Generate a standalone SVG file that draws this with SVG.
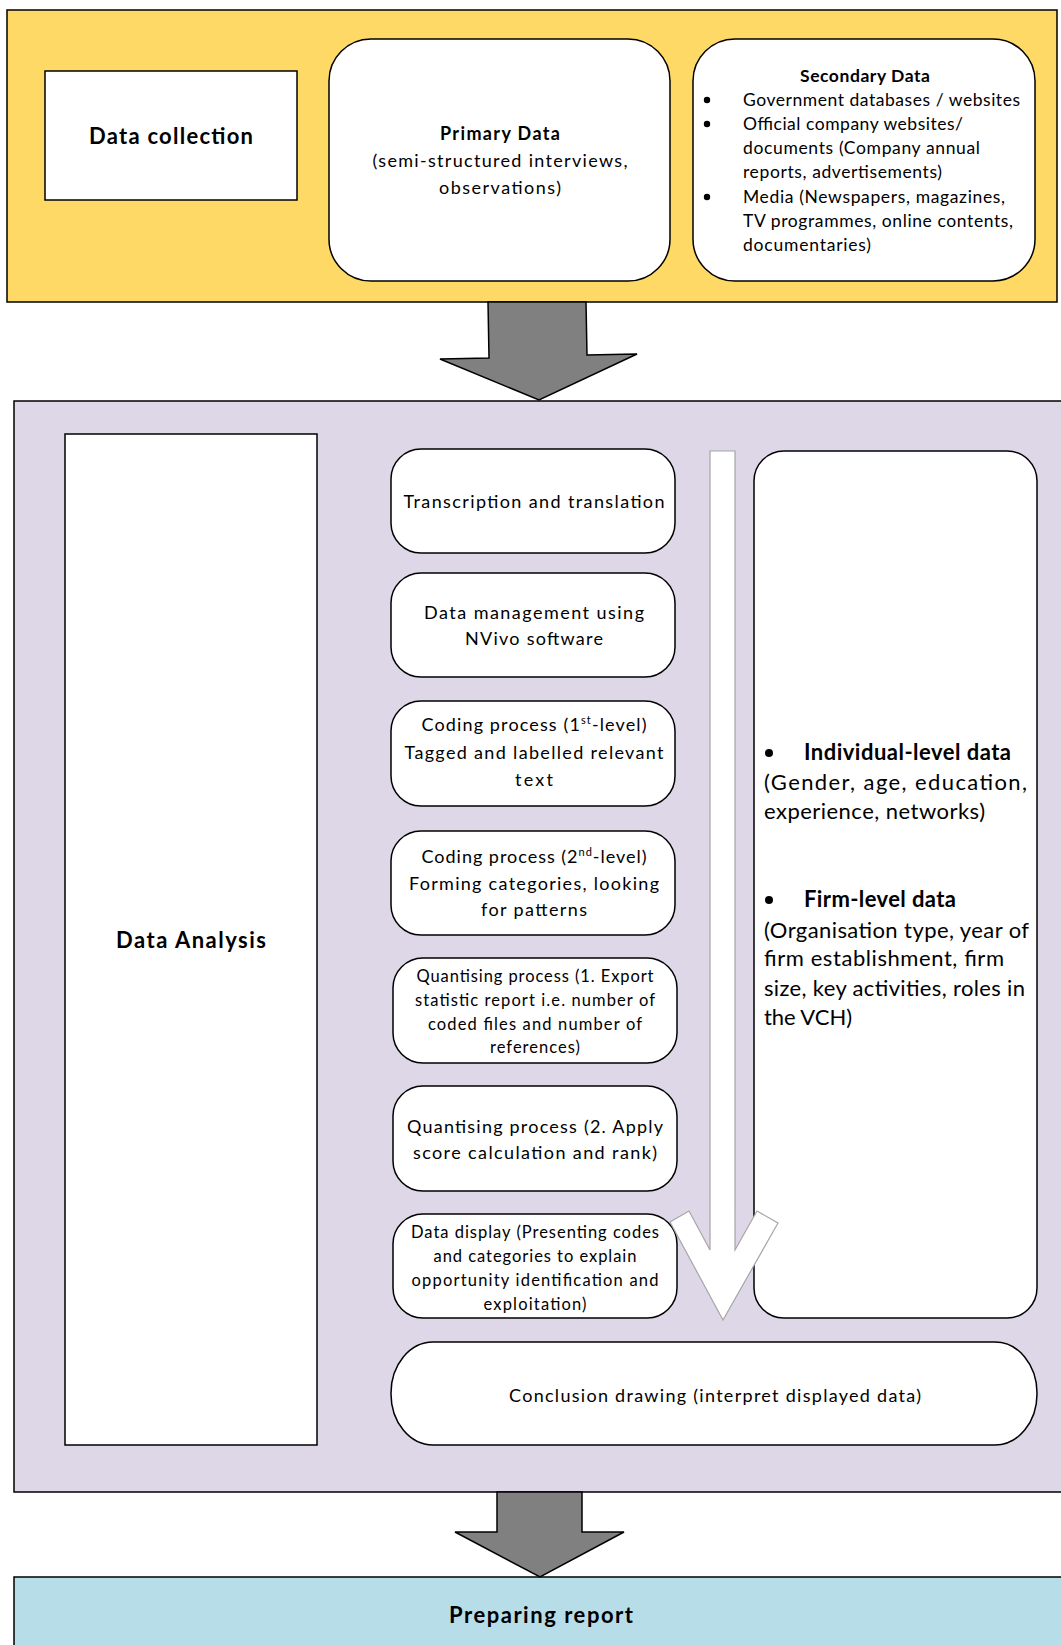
<svg xmlns="http://www.w3.org/2000/svg" width="1061" height="1645" viewBox="0 0 1061 1645">
  <style>
    text { font-family: Lato, "Liberation Sans", sans-serif; fill: #000; }
    .frame { stroke: #000; stroke-width: 1.5; }
    .box { fill: #fff; stroke: #000; stroke-width: 1.5; }
    .b { font-weight: bold; }
    .c { text-anchor: middle; }
    .t17 { font-size: 17.5px; }
    .t18 { font-size: 18px; }
    .t165 { font-size: 16.5px; }
    .t22 { font-size: 22px; }
    .block { fill: #808080; stroke: #000; stroke-width: 1.5; stroke-linejoin: miter; }
    .flow { fill: #fff; stroke: #a6a6a6; stroke-width: 1.2; }
  </style>

  <rect width="1061" height="1645" fill="#fff"/>

  <!-- stage panels -->
  <g id="collection-panel">
    <rect class="frame" x="7" y="10" width="1050" height="292" fill="#ffd966"/>
  </g>
  <g id="analysis-panel">
    <rect class="frame" x="14" y="401" width="1060" height="1091" fill="#ddd7e7"/>
  </g>
  <g id="report-panel">
    <rect class="frame" x="14" y="1577" width="1060" height="80" fill="#b7dde8"/>
    <text class="b c t22" x="541" y="1623" textLength="184">Preparing report</text>
  </g>

  <!-- data collection -->
  <g id="data-collection">
    <rect class="box" x="45" y="71" width="252" height="129"/>
    <text class="b c t22" x="171" y="144" textLength="164">Data collection</text>
  </g>
  <g id="primary-data">
    <rect class="box" x="329" y="39" width="341" height="242" rx="42"/>
    <text class="b c t18" x="500" y="140" textLength="120">Primary Data</text>
    <text class="c t18" x="500" y="167" textLength="255">(semi-structured interviews,</text>
    <text class="c t18" x="500" y="194" textLength="122">observations)</text>
  </g>
  <g id="secondary-data">
    <rect class="box" x="693" y="39" width="342" height="242" rx="42"/>
    <text class="b c t17" x="865" y="82" textLength="130">Secondary Data</text>
    <circle cx="707" cy="100" r="3.2"/>
    <text class="t17" x="743" y="106" textLength="277">Government databases / websites</text>
    <circle cx="707" cy="124" r="3.2"/>
    <text class="t17" x="743" y="130" textLength="220">Official company websites/</text>
    <text class="t17" x="743" y="154" textLength="237">documents (Company annual</text>
    <text class="t17" x="743" y="178" textLength="199">reports, advertisements)</text>
    <circle cx="707" cy="197" r="3.2"/>
    <text class="t17" x="743" y="203" textLength="262">Media (Newspapers, magazines,</text>
    <text class="t17" x="743" y="227" textLength="270">TV programmes, online contents,</text>
    <text class="t17" x="743" y="251" textLength="128">documentaries)</text>
  </g>

  <!-- data analysis -->
  <g id="data-analysis">
    <rect class="box" x="65" y="434" width="252" height="1011"/>
    <text class="b c t22" x="191" y="948" textLength="150">Data Analysis</text>
  </g>
  <g id="transcription">
    <rect class="box" x="391" y="449" width="284" height="104" rx="30"/>
    <text class="c t18" x="534" y="508" textLength="261">Transcription and translation</text>
  </g>
  <g id="data-management">
    <rect class="box" x="391" y="573" width="284" height="104" rx="30"/>
    <text class="c t18" x="534" y="619" textLength="220">Data management using</text>
    <text class="c t18" x="534" y="645" textLength="138">NVivo software</text>
  </g>
  <g id="coding-first">
    <rect class="box" x="391" y="701" width="284" height="105" rx="30"/>
    <text class="c t18" x="534" y="731" textLength="225">Coding process (1<tspan font-size="11" dy="-7">st</tspan><tspan dy="7">-level)</tspan></text>
    <text class="c t18" x="534" y="759" textLength="259">Tagged and labelled relevant</text>
    <text class="c t18" x="534" y="786" textLength="38">text</text>
  </g>
  <g id="coding-second">
    <rect class="box" x="391" y="831" width="284" height="104" rx="30"/>
    <text class="c t18" x="534" y="863" textLength="225">Coding process (2<tspan font-size="11" dy="-7">nd</tspan><tspan dy="7">-level)</tspan></text>
    <text class="c t18" x="534" y="890" textLength="250">Forming categories, looking</text>
    <text class="c t18" x="534" y="916" textLength="106">for patterns</text>
  </g>
  <g id="quantising-export">
    <rect class="box" x="393" y="958" width="284" height="105" rx="30"/>
    <text class="c t165" x="535" y="982" textLength="237">Quantising process (1. Export</text>
    <text class="c t165" x="535" y="1006" textLength="240">statistic report i.e. number of</text>
    <text class="c t165" x="535" y="1030" textLength="214">coded files and number of</text>
    <text class="c t165" x="535" y="1053" textLength="90">references)</text>
  </g>
  <g id="quantising-score">
    <rect class="box" x="393" y="1086" width="284" height="105" rx="30"/>
    <text class="c t18" x="535" y="1133" textLength="256">Quantising process (2. Apply</text>
    <text class="c t18" x="535" y="1159" textLength="244">score calculation and rank)</text>
  </g>
  <g id="data-display">
    <rect class="box" x="393" y="1214" width="284" height="104" rx="30"/>
    <text class="c t165" x="535" y="1238" textLength="248">Data display (Presenting codes</text>
    <text class="c t165" x="535" y="1262" textLength="203">and categories to explain</text>
    <text class="c t165" x="535" y="1286" textLength="247">opportunity identification and</text>
    <text class="c t165" x="535" y="1310" textLength="103">exploitation)</text>
  </g>
  <g id="conclusion">
    <rect class="box" x="391" y="1342" width="646" height="103" rx="42" ry="51"/>
    <text class="c t18" x="715" y="1402" textLength="412">Conclusion drawing (interpret displayed data)</text>
  </g>
  <g id="data-levels">
    <rect class="box" x="754" y="451" width="283" height="867" rx="30"/>
    <circle cx="769" cy="753" r="4"/>
    <text class="b t22" x="804" y="760" textLength="207">Individual-level data</text>
    <text class="t22" x="764" y="790" textLength="263">(Gender, age, education,</text>
    <text class="t22" x="764" y="819" textLength="221">experience, networks)</text>
    <circle cx="769" cy="900" r="4"/>
    <text class="b t22" x="804" y="907" textLength="152">Firm-level data</text>
    <text class="t22" x="764" y="938" textLength="265">(Organisation type, year of</text>
    <text class="t22" x="764" y="966" textLength="240">firm establishment, firm</text>
    <text class="t22" x="764" y="996" textLength="261">size, key activities, roles in</text>
    <text class="t22" x="764" y="1025" textLength="88">the VCH)</text>
  </g>

  <!-- connectors between stages and the flow arrow, drawn on top -->
  <g id="connectors">
    <polygon class="block" points="488,302 489,358 440,359 539,400 637,354 587,355 586,302"/>
    <polygon class="block" points="497,1492 497,1532 455,1532 540,1577 624,1532 582,1532 582,1492"/>
    <polygon class="flow" points="710,451 735,451 735,1250 757,1211 778,1223 723,1320 670,1222 689,1211 710,1250"/>
  </g>
</svg>
